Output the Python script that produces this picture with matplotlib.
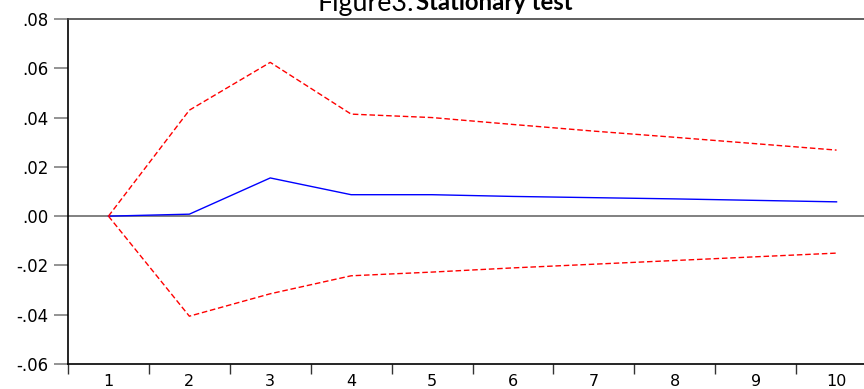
import matplotlib
matplotlib.use("Agg")
import matplotlib.pyplot as plt
from matplotlib.ticker import FixedLocator, FuncFormatter, NullFormatter

periods = [1, 2, 3, 4, 5, 6, 7, 8, 9, 10]
response = [0.0, 0.0008, 0.0155, 0.0087, 0.0087, 0.0080, 0.0075, 0.0070, 0.0064, 0.0058]
upper = [0.0, 0.0430, 0.0624, 0.0414, 0.0400, 0.0372, 0.0345, 0.0320, 0.0294, 0.0268]
lower = [0.0, -0.0406, -0.0315, -0.0242, -0.0227, -0.0210, -0.0195, -0.0180, -0.0165, -0.0150]
yticks = [-0.06, -0.04, -0.02, 0.0, 0.02, 0.04, 0.06, 0.08]
title_normal = "Figure3:"
title_bold = "Stationary test"

W, H = 864, 389
fig = plt.figure(figsize=(W / 100, H / 100), dpi=100)
left, right, top, bottom = 68, 877, 19, 364
ax = fig.add_axes([left / W, (H - bottom) / H, (right - left) / W, (bottom - top) / H])

ax.plot(periods, response, color="#0000ff", lw=1.0)
ax.plot(periods, upper, color="#ff0000", lw=1.0, dashes=(4, 2))
ax.plot(periods, lower, color="#ff0000", lw=1.0, dashes=(4, 2))
ax.axhline(0, color="#808080", lw=1.4, zorder=0)

ax.set_xlim(0.5, 10.5)
ax.set_ylim(-0.06, 0.08)

TICKFONT = "DejaVu Sans"
ax.xaxis.set_major_locator(FixedLocator([p - 0.5 for p in periods] + [10.5]))
ax.xaxis.set_major_formatter(NullFormatter())
ax.xaxis.set_minor_locator(FixedLocator(periods))
ax.xaxis.set_minor_formatter(FuncFormatter(lambda v, p: f"{int(round(v))}"))
ax.tick_params(axis="x", which="major", length=7, width=1, color="#333333", direction="out")
ax.tick_params(axis="x", which="minor", length=0, pad=7.5, labelsize=11.5)

ax.set_yticks(yticks)
def yfmt(v, p):
    s = f"{v:.2f}"
    if s.startswith("-0"):
        s = "-" + s[2:]
    elif s.startswith("0"):
        s = s[1:]
    return s
ax.yaxis.set_major_formatter(FuncFormatter(yfmt))
ax.tick_params(axis="y", length=10, width=1.2, color="#808080", pad=4, labelsize=12)

for lab in ax.get_xticklabels(minor=True) + ax.get_yticklabels():
    lab.set_fontfamily(TICKFONT)

ax.spines["right"].set_visible(False)
ax.spines["top"].set_color("#444444")
ax.spines["top"].set_linewidth(1.2)
ax.spines["left"].set_color("#000000")
ax.spines["left"].set_linewidth(1.2)
ax.spines["bottom"].set_color("#000000")
ax.spines["bottom"].set_linewidth(1.2)

# title: fit text widths to the reference's visible spans
ty = (H - 10.5) / H
renderer = fig.canvas.get_renderer()
t1 = fig.text(317 / W, ty, title_normal, fontsize=13, family="Lato", va="baseline", ha="left")
w1 = t1.get_window_extent(renderer=renderer).width
t1.set_fontsize(13 * 96 / w1)
x1 = t1.get_window_extent(renderer=renderer).x1
t2 = fig.text((x1 + 2) / W, ty, title_bold, fontsize=13, family="Lato", fontweight="bold", va="baseline", ha="left")
w2 = t2.get_window_extent(renderer=renderer).width
t2.set_fontsize(13 * 157 / w2)

fig.savefig("out.png", dpi=100)
